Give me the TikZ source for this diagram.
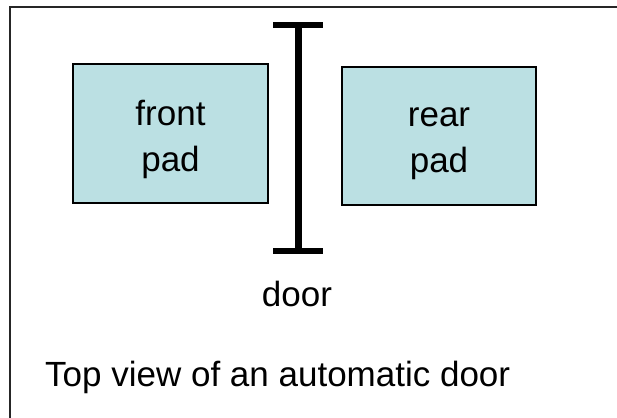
\documentclass[tikz,border=0pt]{standalone}
\usepackage{fontspec}
\setmainfont{Liberation Sans}
\definecolor{padfill}{HTML}{BBE0E3}
\begin{document}
\begin{tikzpicture}[x=1pt,y=-1pt,
  pad/.style={draw=black, line width=1.6pt, fill=padfill, align=center,
    font=\fontsize{35}{46}\selectfont, inner sep=0pt, text height=83pt},
  caption/.style={inner sep=0pt, font=\fontsize{35}{42}\selectfont},
  doorbar/.style={line width=6pt},
  doorpost/.style={line width=7pt}]
  \useasboundingbox (0,0) rectangle (617,417);
  % outer frame (runs past the right and bottom edges)
  \draw[line width=2pt, black!85] (10,7) rectangle (625,425);
  % the two pressure pads
  \node[pad, minimum width=195pt, minimum height=139pt] (front) at (170.5,133.5) {front\\pad};
  \node[pad, minimum width=194pt, minimum height=138pt, text height=80pt] (rear) at (439,136) {rear\\pad};
  % the door, seen from above
  \coordinate (doortop) at (298,25);
  \coordinate (doorbot) at (298,251);
  \draw[doorpost] (doortop) -- (doorbot);
  \draw[doorbar] ([xshift=-25pt]doortop) -- ([xshift=25pt]doortop);
  \draw[doorbar] ([xshift=-25pt]doorbot) -- ([xshift=25pt]doorbot);
  \node[caption, anchor=base] (doorlabel) at (297,306) {door};
  \node[caption, anchor=base west] (title) at (45,386) {Top view of an automatic door};
\end{tikzpicture}
\end{document}
